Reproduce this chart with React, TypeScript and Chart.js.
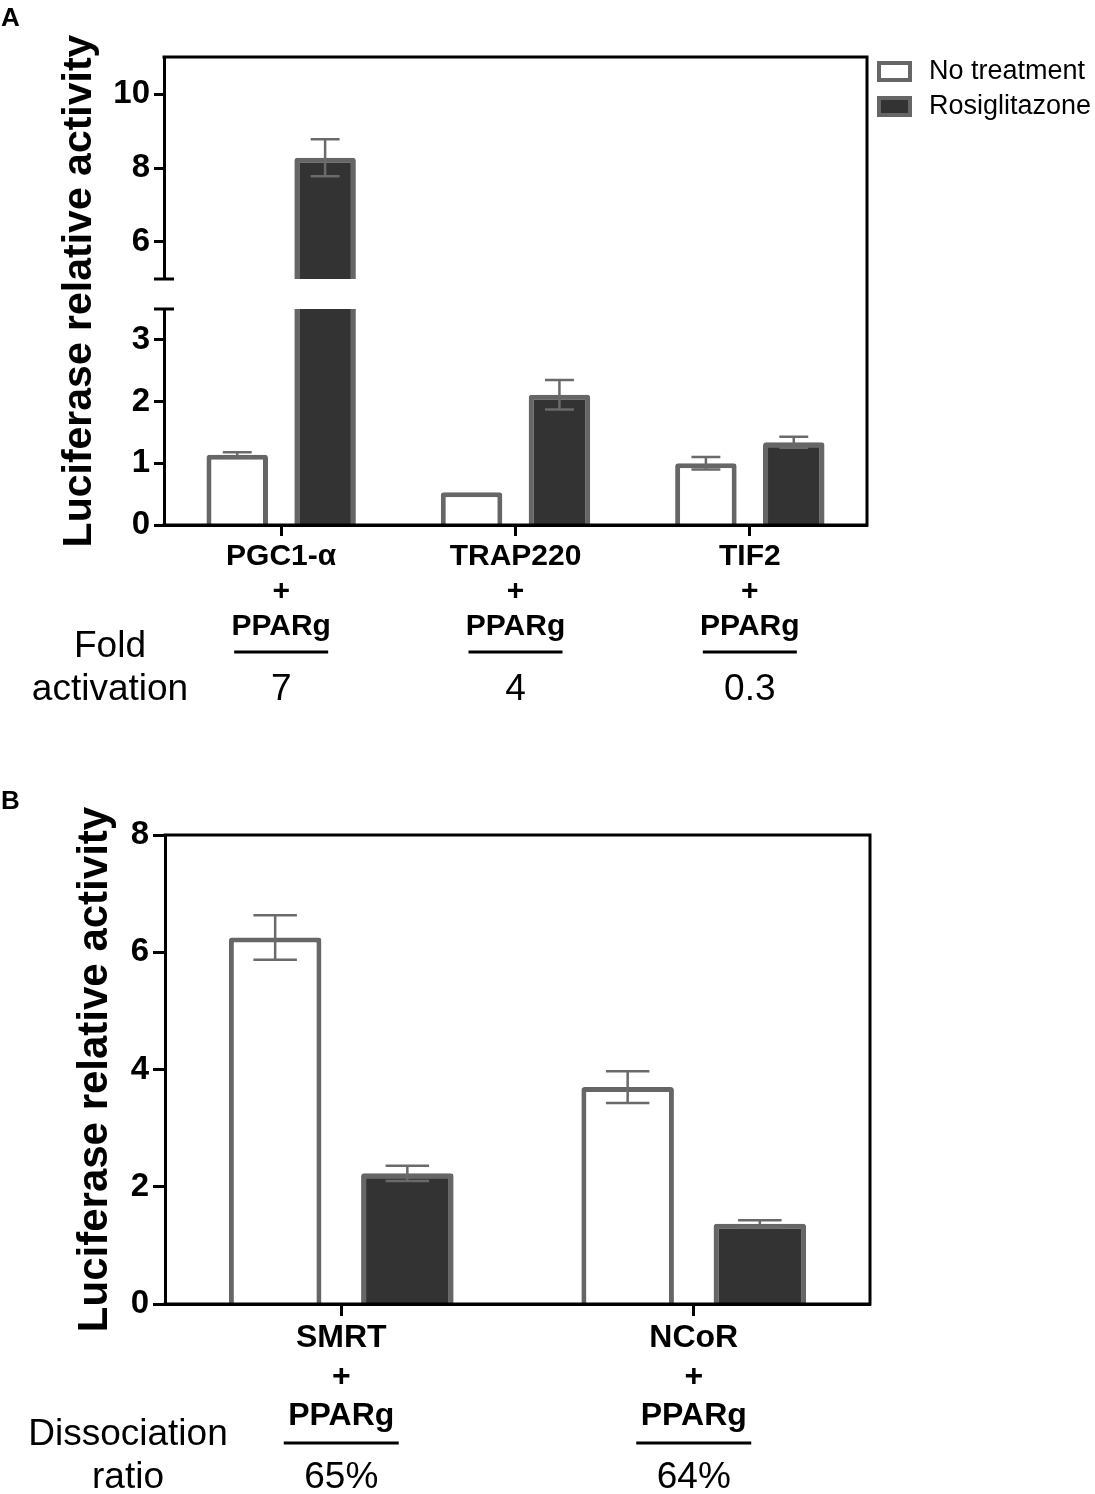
import React, { useEffect, useRef } from 'react';
import { Chart, registerables, LinearScale } from 'chart.js';

Chart.register(...registerables);

// ---------------- DATA ----------------
const seriesNames = ['No treatment', 'Rosiglitazone'];

const categoriesA = [
  ['PGC1-α', '+', 'PPARg'],
  ['TRAP220', '+', 'PPARg'],
  ['TIF2', '+', 'PPARg'],
];
const noTreatmentA = [1.14, 0.53, 1.0];
const noTreatmentErrA = [0.04, 0, 0.1];
const rosiA = [8.28, 2.11, 1.34];
const rosiErrA = [0.5, 0.24, 0.09];
const foldActivation = ['7', '4', '0.3'];
const yTicksA = [0, 1, 2, 3, 6, 8, 10];
const yRangeA = [0, 11];
const yBreakA = [3.5, 5];

const categoriesB = [
  ['SMRT', '+', 'PPARg'],
  ['NCoR', '+', 'PPARg'],
];
const noTreatmentB = [6.25, 3.7];
const noTreatmentErrB = [0.38, 0.27];
const rosiB = [2.23, 1.37];
const rosiErrB = [0.13, 0.06];
const dissociationRatio = ['65%', '64%'];
const yTicksB = [0, 2, 4, 6, 8];
const yRangeB = [0, 8];

// ---------------- STYLE ----------------
const FAMILY = '"Liberation Sans", Arial, Helvetica, sans-serif';
const BORDER_GREY = '#666666';
const DARK = '#333333';
const ERR_GREY = '#6a6a6a';
const LOW_FRAC = 216 / 468;
const GAP_FRAC = 30 / 468;

class BrokenScale extends LinearScale {
  static id = 'brokenLinear';
  static defaults = LinearScale.defaults;
  getPixelForValue(value: number) {
    const lo = yBreakA[0];
    const hi = yBreakA[1];
    const min = this.min;
    const max = this.max;
    let f: number;
    if (value <= lo) f = ((value - min) / (lo - min)) * LOW_FRAC;
    else if (value >= hi) f = LOW_FRAC + GAP_FRAC + ((value - hi) / (max - hi)) * (1 - LOW_FRAC - GAP_FRAC);
    else f = LOW_FRAC + ((value - lo) / (hi - lo)) * GAP_FRAC;
    return this.bottom - f * (this.bottom - this.top);
  }
  getValueForPixel(pixel: number) {
    const lo = yBreakA[0];
    const hi = yBreakA[1];
    const f = (this.bottom - pixel) / (this.bottom - this.top);
    if (f <= LOW_FRAC) return this.min + (f / LOW_FRAC) * (lo - this.min);
    if (f >= LOW_FRAC + GAP_FRAC)
      return hi + ((f - LOW_FRAC - GAP_FRAC) / (1 - LOW_FRAC - GAP_FRAC)) * (this.max - hi);
    return lo + ((f - LOW_FRAC) / GAP_FRAC) * (hi - lo);
  }
}
Chart.register(BrokenScale);

type DecorOpts = {
  errors: number[][];
  breakRange?: number[];
  underlineY: number;
  underlineW: number;
  bottomTexts: string[];
  bottomTextY: number;
  leftLines: string[];
  leftLinesY: number[];
  leftX: number;
  legend: boolean;
  letter: string;
  letterY: number;
};

function makeDecor(o: DecorOpts) {
  return {
    id: 'decor',
    afterDatasetsDraw(chart: any) {
      const { ctx, chartArea: ca, scales } = chart;
      const y = scales.y;
      const x = scales.x;
      ctx.save();
      // axis break
      if (o.breakRange) {
        const yHi = y.getPixelForValue(o.breakRange[1]);
        const yLo = y.getPixelForValue(o.breakRange[0]);
        ctx.fillStyle = '#ffffff';
        ctx.fillRect(ca.left - 4, yHi, ca.right - ca.left, yLo - yHi);
        ctx.strokeStyle = '#000';
        ctx.lineWidth = 3;
        ctx.beginPath();
        ctx.moveTo(ca.left - 10, yHi);
        ctx.lineTo(ca.left + 10, yHi);
        ctx.moveTo(ca.left - 10, yLo);
        ctx.lineTo(ca.left + 10, yLo);
        ctx.stroke();
      }
      // error bars
      ctx.strokeStyle = ERR_GREY;
      ctx.lineWidth = 2.5;
      chart.data.datasets.forEach((ds: any, d: number) => {
        const meta = chart.getDatasetMeta(d);
        meta.data.forEach((bar: any, i: number) => {
          const v = ds.data[i];
          const e = o.errors[d][i];
          if (!e) return;
          const half = bar.width * 0.235;
          const yT = y.getPixelForValue(v + e);
          const yB = y.getPixelForValue(v - e);
          ctx.beginPath();
          ctx.moveTo(bar.x, yT);
          ctx.lineTo(bar.x, yB);
          ctx.moveTo(bar.x - half, yT);
          ctx.lineTo(bar.x + half, yT);
          ctx.moveTo(bar.x - half, yB);
          ctx.lineTo(bar.x + half, yB);
          ctx.stroke();
        });
      });
      // frame (top, right, bottom)
      ctx.strokeStyle = '#000';
      ctx.lineWidth = 3;
      ctx.beginPath();
      ctx.moveTo(ca.left - 1.5, ca.top);
      ctx.lineTo(ca.right, ca.top);
      ctx.lineTo(ca.right, ca.bottom);
      ctx.lineTo(ca.left - 1.5, ca.bottom);
      ctx.stroke();

      // underlines + values below categories
      ctx.fillStyle = '#000';
      ctx.textAlign = 'center';
      ctx.textBaseline = 'middle';
      ctx.font = `normal 37px ${FAMILY}`;
      o.bottomTexts.forEach((t, i) => {
        const cx = x.getPixelForValue(i);
        ctx.fillRect(cx - o.underlineW / 2, o.underlineY - 1.5, o.underlineW, 3);
        ctx.fillText(t, cx, o.bottomTextY);
      });
      o.leftLines.forEach((t, i) => ctx.fillText(t, o.leftX, o.leftLinesY[i]));

      // legend
      if (o.legend) {
        ctx.font = `normal 27px ${FAMILY}`;
        ctx.textAlign = 'left';
        chart.data.datasets.forEach((ds: any, d: number) => {
          const bx = ca.right + 10;
          const by = 61 + d * 35;
          ctx.fillStyle = ds.backgroundColor;
          ctx.fillRect(bx, by, 35, 21);
          ctx.strokeStyle = ds.borderColor;
          ctx.lineWidth = 4;
          ctx.strokeRect(bx + 2, by + 2, 31, 17);
          ctx.fillStyle = '#000';
          ctx.fillText(ds.label, bx + 52, by + 11);
        });
      }
      // panel letter
      ctx.font = `bold 26px ${FAMILY}`;
      ctx.textAlign = 'left';
      ctx.textBaseline = 'middle';
      ctx.fillStyle = '#000';
      ctx.fillText(o.letter, 1, o.letterY);
      ctx.restore();
    },
  };
}

function buildConfig(p: {
  labels: string[][];
  nt: number[];
  rosi: number[];
  yType: string;
  yRange: number[];
  yTicks: number[];
  padLeft: number;
  padTop: number;
  padRight: number;
  padBottom: number;
  yWidth: number;
  xHeight: number;
  xFont: number;
  xLine: number;
  xTickLen: number;
  yTickLen: number;
  titleSize: number;
  decor: any;
}) {
  const radius = { topLeft: 3, topRight: 3, bottomLeft: 0, bottomRight: 0 };
  return {
    type: 'bar' as const,
    data: {
      labels: p.labels,
      datasets: [
        {
          label: seriesNames[0],
          data: p.nt,
          backgroundColor: '#ffffff',
          borderColor: BORDER_GREY,
          borderWidth: 5,
          borderRadius: radius,
          categoryPercentage: 0.75,
          barPercentage: 0.7,
        },
        {
          label: seriesNames[1],
          data: p.rosi,
          backgroundColor: DARK,
          borderColor: BORDER_GREY,
          borderWidth: 5,
          borderRadius: radius,
          categoryPercentage: 0.75,
          barPercentage: 0.7,
        },
      ],
    },
    options: {
      responsive: false,
      animation: false,
      events: [],
      layout: { padding: { left: p.padLeft, top: p.padTop, right: p.padRight, bottom: p.padBottom } },
      plugins: { legend: { display: false }, tooltip: { enabled: false } },
      scales: {
        x: {
          type: 'category',
          grid: {
            offset: false,
            drawOnChartArea: false,
            drawTicks: true,
            tickLength: p.xTickLen,
            tickWidth: 3,
            tickColor: '#000',
          },
          border: { display: true, color: '#000', width: 3 },
          ticks: {
            color: '#000',
            padding: 3,
            maxRotation: 0,
            autoSkip: false,
            font: { family: FAMILY, size: p.xFont, weight: 'bold', lineHeight: p.xLine },
          },
          afterFit: (s: any) => {
            s.height = p.xHeight;
          },
        },
        y: {
          type: p.yType,
          min: p.yRange[0],
          max: p.yRange[1],
          grid: {
            drawOnChartArea: false,
            drawTicks: true,
            tickLength: p.yTickLen,
            tickWidth: 3,
            tickColor: '#000',
          },
          border: { display: true, color: '#000', width: 3 },
          ticks: {
            color: '#000',
            padding: 4,
            font: { family: FAMILY, size: 33, weight: 'bold' },
          },
          afterBuildTicks: (s: any) => {
            s.ticks = p.yTicks.map((v) => ({ value: v }));
          },
          title: {
            display: true,
            text: 'Luciferase relative activity',
            color: '#000',
            padding: { top: 5, bottom: 0 },
            font: { family: FAMILY, size: p.titleSize, weight: 'bold', lineHeight: 1.2 },
          },
          afterFit: (s: any) => {
            s.width = p.yWidth;
          },
        },
      },
    },
    plugins: [p.decor],
  };
}

export default function App() {
  const refA = useRef<HTMLCanvasElement | null>(null);
  const refB = useRef<HTMLCanvasElement | null>(null);

  useEffect(() => {
    const cfgA = buildConfig({
      labels: categoriesA,
      nt: noTreatmentA,
      rosi: rosiA,
      yType: 'brokenLinear',
      yRange: yRangeA,
      yTicks: yTicksA,
      padLeft: 50,
      padTop: 57,
      padRight: 1095 - 867,
      padBottom: 745 - 525 - 130,
      yWidth: 164 - 50,
      xHeight: 130,
      xFont: 30,
      xLine: 35 / 30,
      xTickLen: 11,
      yTickLen: 10,
      titleSize: 41,
      decor: makeDecor({
        errors: [noTreatmentErrA, rosiErrA],
        breakRange: yBreakA,
        underlineY: 652,
        underlineW: 94,
        bottomTexts: foldActivation,
        bottomTextY: 690,
        leftLines: ['Fold', 'activation'],
        leftLinesY: [647, 690],
        leftX: 110,
        legend: true,
        letter: 'A',
        letterY: 19,
      }),
    });
    const cfgB = buildConfig({
      labels: categoriesB,
      nt: noTreatmentB,
      rosi: rosiB,
      yType: 'linear',
      yRange: yRangeB,
      yTicks: yTicksB,
      padLeft: 65,
      padTop: 90,
      padRight: 1095 - 870,
      padBottom: 749 - 559 - 140,
      yWidth: 165 - 65,
      xHeight: 140,
      xFont: 32,
      xLine: 39 / 32,
      xTickLen: 12,
      yTickLen: 12,
      titleSize: 42,
      decor: makeDecor({
        errors: [noTreatmentErrB, rosiErrB],
        underlineY: 698,
        underlineW: 115,
        bottomTexts: dissociationRatio,
        bottomTextY: 733,
        leftLines: ['Dissociation', 'ratio'],
        leftLinesY: [690, 733],
        leftX: 128,
        legend: false,
        letter: 'B',
        letterY: 57,
      }),
    });
    const a = new Chart(refA.current as HTMLCanvasElement, cfgA as any);
    const b = new Chart(refB.current as HTMLCanvasElement, cfgB as any);
    return () => {
      a.destroy();
      b.destroy();
    };
  }, []);

  return (
    <div
      style={{
        position: 'absolute',
        left: 0,
        top: 0,
        width: 1095,
        height: 1494,
        background: '#ffffff',
        overflow: 'hidden',
      }}
    >
      <canvas
        ref={refA}
        width={1095}
        height={745}
        style={{ position: 'absolute', left: 0, top: 0, width: 1095, height: 745 }}
      />
      <canvas
        ref={refB}
        width={1095}
        height={749}
        style={{ position: 'absolute', left: 0, top: 745, width: 1095, height: 749 }}
      />
    </div>
  );
}
